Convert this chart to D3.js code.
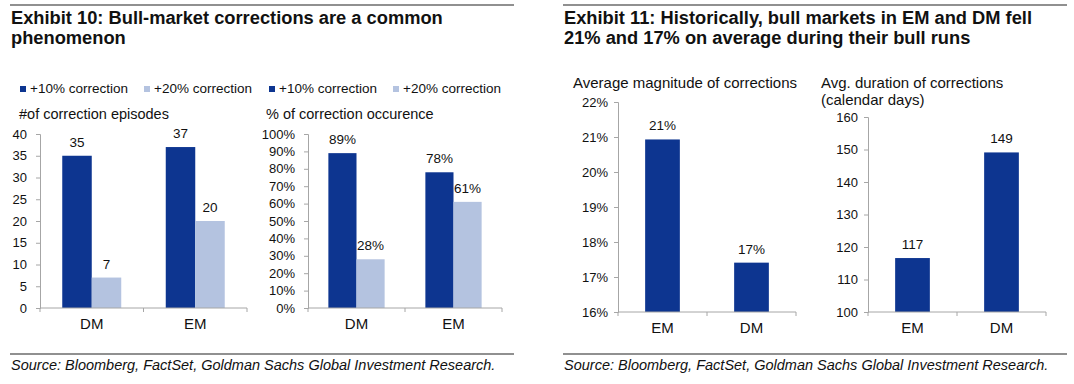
<!DOCTYPE html>
<html>
<head>
<meta charset="utf-8">
<script src="https://cdn.jsdelivr.net/npm/d3@7"></script>
<style>
  body { margin: 0; background: #fff; }
  svg { display: block; font-family: "Liberation Sans", Arial, sans-serif; }
  .tick text { font-size: 13px; fill: #111; }
</style>
</head>
<body>
<svg id="chart" width="1074" height="384"></svg>
<script>
// data
const marketsA = ['DM', 'EM']
const episodes10 = [35, 37]
const episodes20 = [7, 20]
const occurence10 = [89, 78]
const occurence20 = [28, 61]
const marketsB = ['EM', 'DM']
const magnitude = [20.93, 17.41]
const duration = [116.6, 149.1]
const episodeTicks = [0, 5, 10, 15, 20, 25, 30, 35, 40]
const occurenceTicks = [0, 10, 20, 30, 40, 50, 60, 70, 80, 90, 100]
const magnitudeTicks = [16, 17, 18, 19, 20, 21, 22]
const durationTicks = [100, 110, 120, 130, 140, 150, 160]
const legendLabels = ['+10% correction', '+20% correction']

const dark = '#0d3590'
const light = '#b4c3e0'
const axisGrey = '#a6a6a6'
const svg = d3.select('#chart')

// ---- frame: rules, titles, sources ----
function panelFrame(x0, x1, titleLines) {
  svg.append('line').attr('x1', x0).attr('x2', x1).attr('y1', 5).attr('y2', 5)
    .attr('stroke', '#222').attr('stroke-width', 1.2)
  svg.append('line').attr('x1', x0).attr('x2', x1).attr('y1', 354).attr('y2', 354)
    .attr('stroke', '#222').attr('stroke-width', 1.2)
  titleLines.forEach((t, i) => {
    svg.append('text').attr('x', x0 + 1).attr('y', 24 + i * 20)
      .attr('font-size', 18.3).attr('font-weight', 'bold').attr('fill', '#111').text(t)
  })
  svg.append('text').attr('x', x0 + 1).attr('y', 370)
    .attr('font-size', 14.5).attr('font-style', 'italic').attr('fill', '#111')
    .text('Source: Bloomberg, FactSet, Goldman Sachs Global Investment Research.')
}
panelFrame(10, 514, ['Exhibit 10: Bull-market corrections are a common', 'phenomenon'])
panelFrame(563, 1067, ['Exhibit 11: Historically, bull markets in EM and DM fell', '21% and 17% on average during their bull runs'])

// legend (left panel, shown twice as in the original)
const legendX = [20, 144, 269, 393]
legendX.forEach((lx, i) => {
  svg.append('rect').attr('x', lx).attr('y', 86).attr('width', 6).attr('height', 6)
    .attr('fill', i % 2 == 0 ? dark : light)
  svg.append('text').attr('x', lx + 10).attr('y', 93).attr('font-size', 13.5)
    .attr('fill', '#111').text(legendLabels[i % 2])
})

function subtitle(x, y, t, size) {
  svg.append('text').attr('x', x).attr('y', y).attr('font-size', size).attr('fill', '#111').text(t)
}
subtitle(19, 119, '#of correction episodes', 14.5)
subtitle(266, 119, '% of correction occurence', 14.5)
subtitle(573, 88, 'Average magnitude of corrections', 15)
subtitle(821, 88, 'Avg. duration of corrections', 15)
subtitle(821, 105, '(calendar days)', 15)

// ---- generic bar panel ----
function barPanel(opt) {
  const x = d3.scaleBand().domain(opt.cats).range([opt.left, opt.right])
  const y = d3.scaleLinear().domain(opt.domain).range([opt.bottom, opt.top])
  const g = svg.append('g')

  // y axis
  const yAxis = d3.axisLeft(y).tickValues(opt.ticks).tickSize(4).tickPadding(opt.pad)
    .tickFormat(opt.tickFmt)
  g.append('g').attr('transform', `translate(${opt.left},0)`).call(yAxis)
    .call(a => a.select('.domain').attr('stroke', axisGrey))
    .call(a => a.selectAll('.tick line').attr('stroke', axisGrey))

  // bars
  const groupW = x.bandwidth() * opt.groupFrac
  const barW = groupW / opt.series.length
  opt.series.forEach((s, si) => {
    g.selectAll(null).data(s.values).join('rect')
      .attr('x', (d, i) => x(opt.cats[i]) + (x.bandwidth() - groupW) / 2 + si * barW)
      .attr('y', d => y(d))
      .attr('width', barW)
      .attr('height', d => y(opt.domain[0]) - y(d))
      .attr('fill', s.color)
    g.selectAll(null).data(s.values).join('text')
      .attr('x', (d, i) => x(opt.cats[i]) + (x.bandwidth() - groupW) / 2 + (si + 0.5) * barW)
      .attr('y', d => y(d) - 9)
      .attr('text-anchor', 'middle').attr('font-size', 13.5).attr('fill', '#111')
      .text(d => opt.labelFmt(d))
  })

  // x axis: line, boundary ticks, category labels
  const xa = g.append('g').attr('transform', `translate(0,${opt.bottom})`)
  xa.append('line').attr('x1', opt.left).attr('x2', opt.right).attr('stroke', axisGrey)
  const bounds = opt.cats.map(c => x(c)).concat([opt.right])
  xa.selectAll(null).data(bounds).join('line')
    .attr('x1', d => d).attr('x2', d => d).attr('y1', 0).attr('y2', 4).attr('stroke', axisGrey)
  xa.selectAll(null).data(opt.cats).join('text')
    .attr('x', d => x(d) + x.bandwidth() / 2).attr('y', 21)
    .attr('text-anchor', 'middle').attr('font-size', 15).attr('fill', '#111').text(d => d)
}

barPanel({
  cats: marketsA, left: 40, right: 247, top: 134, bottom: 308, domain: [0, 40],
  ticks: episodeTicks, tickFmt: d => d, pad: 9, groupFrac: 0.57,
  series: [{ values: episodes10, color: dark }, { values: episodes20, color: light }],
  labelFmt: d => d3.format('.0f')(d)
})
barPanel({
  cats: marketsA, left: 308, right: 502, top: 134, bottom: 308, domain: [0, 100],
  ticks: occurenceTicks, tickFmt: d => d + '%', pad: 9, groupFrac: 0.58,
  series: [{ values: occurence10, color: dark }, { values: occurence20, color: light }],
  labelFmt: d => d3.format('.0f')(d) + '%'
})
barPanel({
  cats: marketsB, left: 618, right: 796, top: 102, bottom: 312, domain: [16, 22],
  ticks: magnitudeTicks, tickFmt: d => d + '%', pad: 6, groupFrac: 0.39,
  series: [{ values: magnitude, color: dark }],
  labelFmt: d => d3.format('.0f')(d) + '%'
})
barPanel({
  cats: marketsB, left: 868, right: 1046, top: 117, bottom: 312, domain: [100, 160],
  ticks: durationTicks, tickFmt: d => d, pad: 6, groupFrac: 0.39,
  series: [{ values: duration, color: dark }],
  labelFmt: d => d3.format('.0f')(d)
})
</script>
</body>
</html>
